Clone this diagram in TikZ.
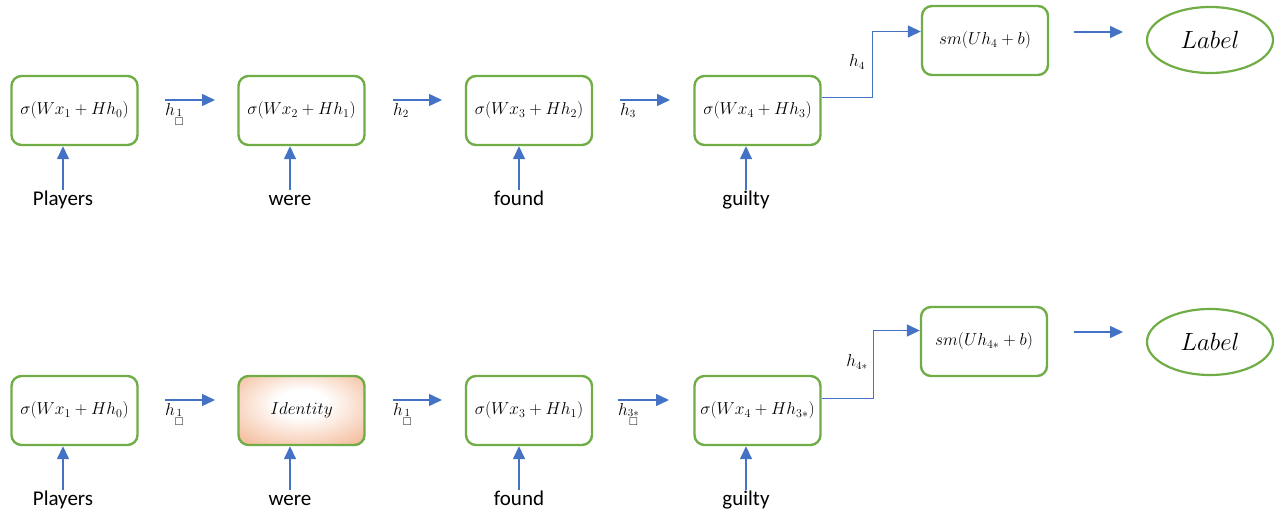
\documentclass[tikz,border=0pt]{standalone}
\usepackage{amsmath,amssymb}
\usepackage{fontspec}
\newfontfamily\wordfont{Carlito}
\usetikzlibrary{arrows.meta,shapes.geometric,shadings}
\definecolor{arrblue}{HTML}{4472C4}
\definecolor{boxgreen}{HTML}{70AD47}
\definecolor{idorange}{RGB}{236,138,80}
\pgfdeclareradialshading{idshade}{\pgfpoint{0bp}{6bp}}{color(0bp)=(white); color(10bp)=(white); color(32bp)=(idorange!50); color(50bp)=(idorange!90); color(70bp)=(idorange)}
\tikzset{
  cell/.style={draw=boxgreen,line width=2.4pt,rounded corners=10pt,minimum width=126pt,minimum height=69pt,inner sep=0pt,font=\fontsize{17}{20}\selectfont},
  lbl/.style={draw=boxgreen,line width=2.2pt,ellipse,minimum width=126pt,minimum height=66pt,inner sep=0pt,font=\fontsize{28}{30}\selectfont},
  arr/.style={draw=arrblue,line width=1.5pt,-{Triangle[length=13pt,width=12pt]}},
  word/.style={font=\wordfont\fontsize{21}{24}\selectfont,inner sep=1pt,text height=14pt,text depth=5pt,anchor=north},
  hlab/.style={anchor=north west,inner sep=0pt,font=\fontsize{16}{18}\selectfont},
  hlabc/.style={inner sep=0pt,font=\fontsize{16}{18}\selectfont}
}
\begin{document}
\begin{tikzpicture}[x=1pt,y=-1pt]
\useasboundingbox (0,0) rectangle (1278,516);
% ---------- top row ----------
\node[cell] (b1) at (74.5,110.5) {$\sigma(Wx_1+Hh_0)$};
\node[cell] (b2) at (301.5,110.5) {$\sigma(Wx_2+Hh_1)$};
\node[cell] (b3) at (529,110.5) {$\sigma(Wx_3+Hh_2)$};
\node[cell] (b4) at (757.5,110.5) {$\sigma(Wx_4+Hh_3)$};
\node[cell] (s1) at (985,40.5) {$sm(Uh_4+b)$};
\node[lbl] (l1) at (1210,40) {$Label$};
\node[word] (w1) at (63,190) {Players};
\node[word] (w2) at (290,190) {were};
\node[word] (w3) at (519,190) {found};
\node[word] (w4) at (746,190) {guilty};
\foreach \i in {1,...,4}{\draw[arr] (w\i.north) -- (w\i.north |- b\i.south);}
\coordinate (t1s) at (165,100); \coordinate (t1e) at (215,100);
\coordinate (t2s) at (393,100); \coordinate (t2e) at (442,100);
\coordinate (t3s) at (620,100); \coordinate (t3e) at (670,100);
\coordinate (t5s) at (1074,32); \coordinate (t5e) at (1123,32);
\draw[arr] (t1s) -- (t1e);
\draw[arr] (t2s) -- (t2e);
\draw[arr] (t3s) -- (t3e);
\draw[arr] (t5s) -- (t5e);
\node[hlab] (h1) at (165,103) {$h_{\substack{1\\ \square}}$};
\node[hlab] (h2) at (393,103) {$h_2$};
\node[hlab] (h3) at (620,103) {$h_3$};
\draw[arr] ([yshift=13pt]b4.east) -- ++(51,0) |- ([yshift=9pt]s1.west);
\node[hlabc] (h4) at (857,62) {$h_4$};
% ---------- bottom row ----------
\node[cell] (c1) at (74.5,410.5) {$\sigma(Wx_1+Hh_0)$};
\node[cell,shading=idshade] (c2) at (301.5,410.5) {$Identity$};
\node[cell] (c3) at (529,410.5) {$\sigma(Wx_3+Hh_1)$};
\node[cell] (c4) at (757.5,410.5) {$\sigma(Wx_4+Hh_{3*})$};
\node[cell] (s2) at (984,341.5) {$sm(Uh_{4*}+b)$};
\node[lbl] (l2) at (1210,342) {$Label$};
\node[word] (v1) at (63,490) {Players};
\node[word] (v2) at (290,490) {were};
\node[word] (v3) at (519,490) {found};
\node[word] (v4) at (746,490) {guilty};
\foreach \i in {1,...,4}{\draw[arr] (v\i.north) -- (v\i.north |- c\i.south);}
\coordinate (u1s) at (165,400); \coordinate (u1e) at (215,400);
\coordinate (u2s) at (393,400); \coordinate (u2e) at (442,400);
\coordinate (u3s) at (618,400); \coordinate (u3e) at (669,400);
\coordinate (u5s) at (1074,332); \coordinate (u5e) at (1123,332);
\draw[arr] (u1s) -- (u1e);
\draw[arr] (u2s) -- (u2e);
\draw[arr] (u3s) -- (u3e);
\draw[arr] (u5s) -- (u5e);
\node[hlab] (k1) at (165,403) {$h_{\substack{1\\ \square}}$};
\node[hlab] (k2) at (393,403) {$h_{\substack{1\\ \square}}$};
\node[hlab] (k3) at (618,403) {$h_{\substack{3*\\ \square}}$};
\draw[arr] ([yshift=12pt]c4.east) -- ++(52,0) |- ([yshift=11pt]s2.west);
\node[hlabc] (k4) at (857,362) {$h_{4*}$};
\end{tikzpicture}
\end{document}
